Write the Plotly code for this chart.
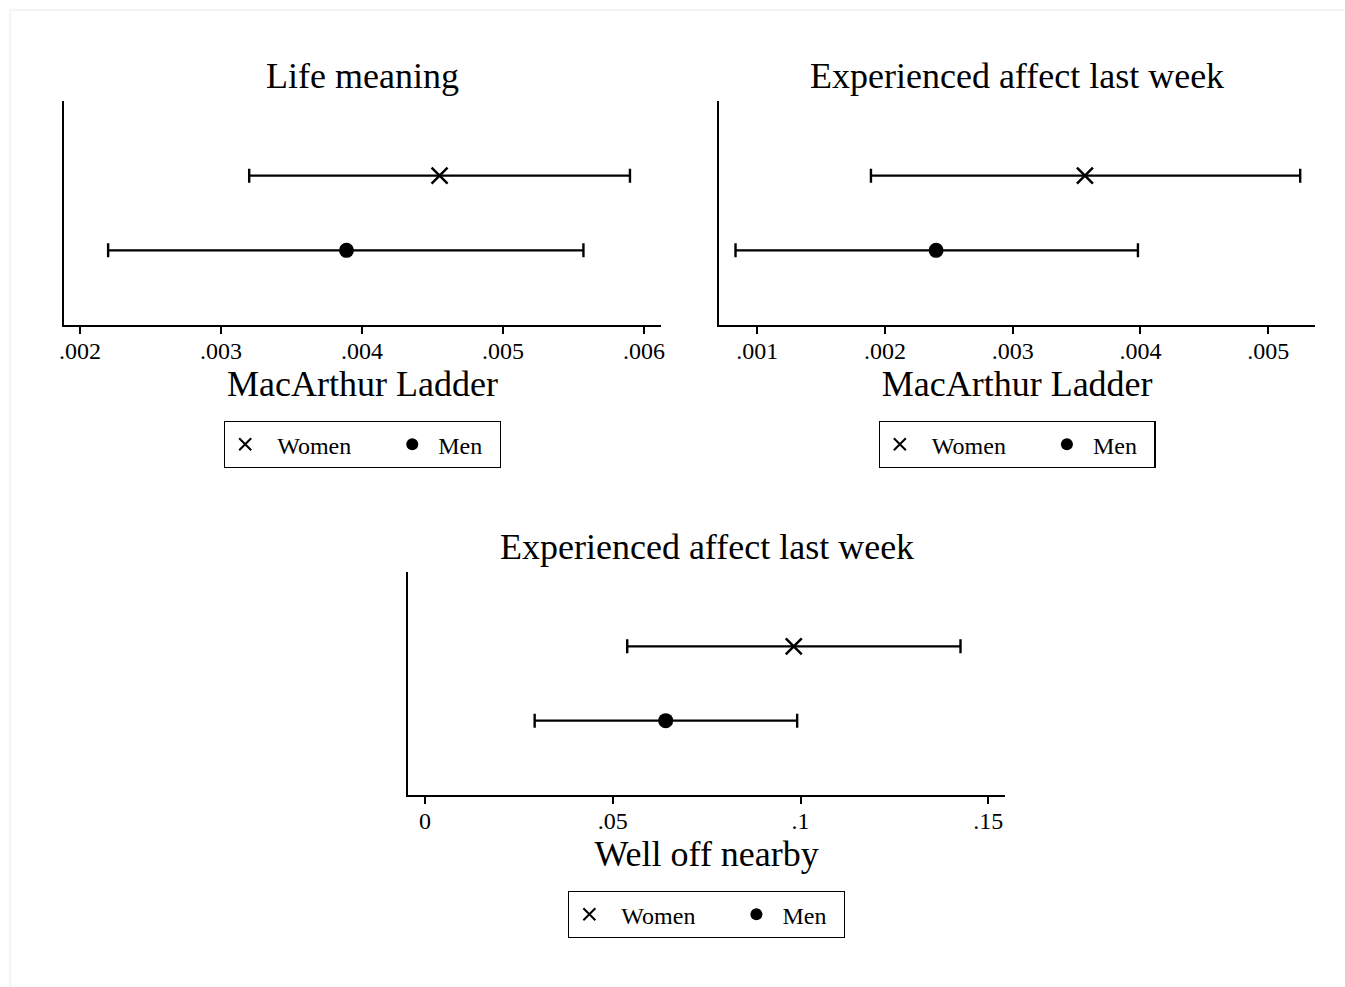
import plotly.graph_objects as go

# ---------------- data ----------------
panel_titles = ["Life meaning", "Experienced affect last week", "Experienced affect last week"]
x_titles = ["MacArthur Ladder", "MacArthur Ladder", "Well off nearby"]
groups = ["Women", "Men"]

women_est = [0.00455, 0.003565, 0.0982]
women_lo = [0.00320, 0.00189, 0.05385]
women_hi = [0.00590, 0.00525, 0.1426]

men_est = [0.00389, 0.00240, 0.0641]
men_lo = [0.00220, 0.00083, 0.0292]
men_hi = [0.00557, 0.00398, 0.0991]

tick_vals = [
    [0.002, 0.003, 0.004, 0.005, 0.006],
    [0.001, 0.002, 0.003, 0.004, 0.005],
    [0.0, 0.05, 0.10, 0.15],
]
tick_text = [
    [".002", ".003", ".004", ".005", ".006"],
    [".001", ".002", ".003", ".004", ".005"],
    ["0", ".05", ".1", ".15"],
]

# ---------------- layout constants ----------------
W, H = 1345, 987
FONT = "Liberation Serif, Times New Roman, serif"
NB = "\u00a0"

def px_x(p):
    return p / W

def px_y(p):
    return 1 - p / H

domains = [
    dict(x=[px_x(64), px_x(661)], y=[px_y(325), px_y(101)]),
    dict(x=[px_x(719.3), px_x(1315)], y=[px_y(325), px_y(101)]),
    dict(x=[px_x(408.3), px_x(1005)], y=[px_y(795), px_y(572)]),
]
x_ranges = [[0.001887, 0.00612], [0.000703, 0.005366], [-0.00445, 0.15445]]
title_y = [76, 76, 547]
legend_top = [421, 421, 891]

fig = go.Figure()
legend_names = ["legend", "legend2", "legend3"]

for i in range(3):
    xa = "x" if i == 0 else f"x{i+1}"
    ya = "y" if i == 0 else f"y{i+1}"
    # Women
    fig.add_trace(go.Scatter(
        x=[women_est[i]], y=[groups[0]],
        mode="markers", name=NB * 2 + groups[0] + NB * 6,
        marker=dict(symbol="x-thin", size=16, color="black",
                    line=dict(width=2.5, color="black")),
        error_x=dict(type="data", symmetric=False,
                     array=[women_hi[i] - women_est[i]],
                     arrayminus=[women_est[i] - women_lo[i]],
                     color="black", thickness=2.4, width=7),
        xaxis=xa, yaxis=ya, legend=legend_names[i], showlegend=True,
    ))
    # Men
    fig.add_trace(go.Scatter(
        x=[men_est[i]], y=[groups[1]],
        mode="markers", name=NB + groups[1] + NB * 2,
        marker=dict(symbol="circle", size=15, color="black"),
        error_x=dict(type="data", symmetric=False,
                     array=[men_hi[i] - men_est[i]],
                     arrayminus=[men_est[i] - men_lo[i]],
                     color="black", thickness=2.4, width=7),
        xaxis=xa, yaxis=ya, legend=legend_names[i], showlegend=True,
    ))

layout = dict(
    width=W, height=H,
    margin=dict(l=0, r=0, t=0, b=0, autoexpand=False),
    paper_bgcolor="white", plot_bgcolor="white",
    font=dict(family=FONT, color="black"),
)

annotations = []
for i in range(3):
    xk = "xaxis" if i == 0 else f"xaxis{i+1}"
    yk = "yaxis" if i == 0 else f"yaxis{i+1}"
    ya = "y" if i == 0 else f"y{i+1}"
    xa = "x" if i == 0 else f"x{i+1}"
    layout[xk] = dict(
        domain=domains[i]["x"], range=x_ranges[i], anchor=ya,
        showline=True, linecolor="black", linewidth=2,
        showgrid=False, zeroline=False,
        ticks="outside", ticklen=7, tickwidth=1.5, tickcolor="black",
        tickvals=tick_vals[i], ticktext=tick_text[i],
        tickfont=dict(family=FONT, size=24, color="black"),
        ticklabelstandoff=-4,
        title=dict(text=x_titles[i], font=dict(family=FONT, size=36, color="black"), standoff=2),
        fixedrange=True,
    )
    layout[yk] = dict(
        domain=domains[i]["y"], anchor=xa,
        type="category", categoryorder="array", categoryarray=["Men", "Women"],
        range=[-1, 2],
        showline=True, linecolor="black", linewidth=2,
        showgrid=False, zeroline=False, showticklabels=False, ticks="",
        fixedrange=True,
    )
    cx = (domains[i]["x"][0] + domains[i]["x"][1]) / 2
    annotations.append(dict(
        text=panel_titles[i], x=cx, y=px_y(title_y[i]), xref="paper", yref="paper",
        xanchor="center", yanchor="middle", showarrow=False,
        font=dict(family=FONT, size=36, color="black"),
    ))
    layout[legend_names[i]] = dict(
        orientation="h", x=cx, xanchor="center", y=px_y(legend_top[i]), yanchor="top",
        bordercolor="black", borderwidth=1.2, bgcolor="white",
        font=dict(family=FONT, size=24, color="black"),
        itemsizing="constant",
    )

layout["annotations"] = annotations
layout["shapes"] = [dict(
    type="rect", xref="paper", yref="paper",
    x0=px_x(10), x1=1.05, y0=-0.05, y1=px_y(10),
    line=dict(color="#e6ecf0", width=1), fillcolor="rgba(0,0,0,0)", layer="below",
)]
fig.update_layout(**layout)

fig.write_html("out.html")
